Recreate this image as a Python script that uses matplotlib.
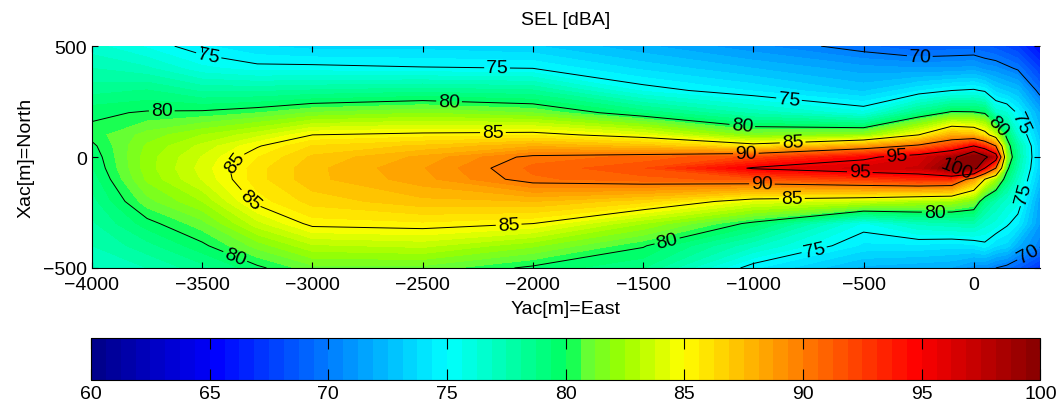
import numpy as np
import matplotlib.pyplot as plt
from matplotlib.colors import LinearSegmentedColormap

plt.rcParams['font.family'] = ['Liberation Sans', 'DejaVu Sans']

# Grid: Yac (East) along x, Xac (North) along y
yac_east = [-4000, -3750, -3500, -3250, -3000, -2500, -2000, -1500, -1000,
            -500, -250, -100, 0, 50, 100, 150, 200, 300]
xac_north = [-500, -400, -300, -200, -100, -50, 0, 50, 100, 200, 300, 400, 500]

# SEL [dBA] profiles, one list per Yac position (values from Xac=-500 to 500)
sel_profiles = [
    [77.0, 77.5, 78.0, 78.5, 79.0, 79.3, 79.5, 79.8, 80.3, 79.8, 78.5, 77.5, 76.5],  # -4000
    [77.5, 78.5, 79.7, 81.0, 82.0, 82.2, 82.2, 82.0, 81.5, 80.1, 78.8, 77.0, 75.5],  # -3750
    [78.5, 79.8, 81.0, 82.5, 83.8, 84.0, 83.8, 83.3, 82.5, 80.2, 78.0, 75.8, 74.5],  # -3500
    [79.8, 81.5, 83.5, 85.3, 86.0, 86.0, 85.6, 84.9, 83.5, 80.6, 78.0, 75.3, 73.8],  # -3250
    [81.0, 83.0, 85.3, 86.5, 87.3, 87.3, 87.0, 86.3, 85.0, 81.3, 78.2, 75.3, 73.5],  # -3000
    [81.0, 83.3, 85.5, 87.3, 88.5, 88.7, 88.3, 87.0, 85.3, 81.8, 78.5, 75.1, 73.5],  # -2500
    [79.8, 82.0, 85.0, 87.5, 90.5, 90.8, 90.3, 88.0, 85.5, 81.2, 78.2, 75.0, 73.2],  # -2000
    [78.8, 80.1, 82.5, 86.5, 91.0, 91.8, 90.8, 87.3, 84.3, 79.2, 75.5, 73.6, 72.0],  # -1500
    [74.5, 77.0, 79.7, 84.2, 91.5, 95.2, 92.0, 85.8, 81.6, 77.3, 74.3, 72.5, 70.8],  # -1000
    [72.3, 74.2, 75.5, 83.5, 92.5, 96.5, 94.5, 88.5, 82.0, 75.8, 73.0, 71.5, 69.5],  # -500
    [72.0, 74.2, 77.0, 82.8, 93.2, 97.0, 96.3, 90.5, 85.0, 78.8, 74.3, 71.3, 68.8],  # -250
    [71.8, 74.0, 77.3, 82.5, 93.0, 100.3, 98.5, 92.5, 88.0, 80.3, 75.0, 71.3, 69.0],  # -100
    [70.8, 74.2, 77.5, 81.5, 88.5, 102.0, 105.0, 95.0, 87.5, 80.2, 75.2, 71.5, 69.0],  # 0
    [70.7, 74.7, 76.5, 78.8, 85.0, 95.0, 101.0, 93.0, 86.0, 79.8, 74.8, 71.0, 68.8],  # 50
    [70.0, 73.8, 76.0, 77.5, 82.5, 90.0, 97.0, 90.0, 83.5, 76.8, 73.5, 70.8, 68.5],  # 100
    [69.5, 73.5, 75.2, 76.5, 79.0, 80.5, 82.0, 81.0, 79.5, 76.3, 73.0, 70.3, 68.0],  # 150
    [68.8, 72.0, 74.4, 75.8, 76.8, 77.5, 78.0, 77.8, 76.5, 74.8, 72.5, 69.8, 67.5],  # 200
    [67.0, 70.2, 71.2, 71.5, 72.8, 73.2, 73.3, 73.2, 72.8, 71.8, 69.5, 67.5, 65.5],  # 300
]

contour_levels = [70, 75, 80, 85, 90, 95, 100, 105]
cbar_ticks = [60, 65, 70, 75, 80, 85, 90, 95, 100]

# where the contour labels sit in the original (Yac, Xac)
label_spots = [
    (-3478, 414), (-2163, 360), (-839, 252), (240, 167), (267, -176), (-730, -392),
    (-3683, 185), (-2381, 221), (-1052, 122), (118, 149), (-177, -270),
    (-1388, -392), (-3351, -450),
    (-2181, 81), (-821, 45), (-3365, -14), (-3297, -203), (-2109, -324), (-825, -180),
    (-1034, 9), (-961, -122), (-349, 2), (-517, -68), (-77, -54),
    (-245, 459), (254, -446),
]

X, Y = np.meshgrid(yac_east, xac_north)
Z = np.array(sel_profiles).T

fig = plt.figure(figsize=(10.62, 4.10), dpi=100)
ax = fig.add_axes([0.0866, 0.344, 0.8926, 0.541])

# jet-like palette as it shows in the original colorbar (64 steps)
anchors = [
    (0.000, (0.00, 0.00, 0.55)),
    (0.125, (0.00, 0.00, 1.00)),
    (0.375, (0.00, 1.00, 1.00)),
    (0.505, (0.00, 1.00, 0.35)),
    (0.515, (0.35, 1.00, 0.25)),
    (0.560, (0.60, 1.00, 0.00)),
    (0.625, (1.00, 1.00, 0.00)),
    (0.875, (1.00, 0.00, 0.00)),
    (1.000, (0.55, 0.00, 0.00)),
]
cmap = LinearSegmentedColormap.from_list('jet_ref', anchors, N=64)
fill_levels = np.linspace(60, 100, 65)
cf = ax.contourf(X, Y, np.clip(Z, 60.01, 99.99), levels=fill_levels, cmap=cmap)

cs = ax.contour(X, Y, Z, levels=contour_levels, colors='k', linewidths=0.7)
ax.clabel(cs, fmt='%d', fontsize=14, inline=True, inline_spacing=2, manual=label_spots)

ax.set_xlim(-4000, 300)
ax.set_ylim(-500, 500)
ax.set_xticks(range(-4000, 1, 500))
ax.set_yticks([-500, 0, 500])
ax.tick_params(direction='in', length=4, labelsize=14, right=True, top=True)
ax.tick_params(axis='x', pad=6)
for side in ['top', 'right']:
    ax.spines[side].set_visible(False)
ax.set_xlabel('Yac[m]=East', fontsize=14, labelpad=5)
ax.set_ylabel('Xac[m]=North', fontsize=14, labelpad=6)
ax.set_title('SEL [dBA]', fontsize=14, pad=16)

cax = fig.add_axes([0.0857, 0.0707, 0.894, 0.102])
cb = fig.colorbar(cf, cax=cax, orientation='horizontal', ticks=cbar_ticks)
cb.ax.tick_params(direction='in', length=8, labelsize=14, top=True, bottom=True)
cb.ax.set_xticklabels([str(t) for t in cbar_ticks])
cb.outline.set_linewidth(0.8)

fig.savefig('out.png', dpi=100)
